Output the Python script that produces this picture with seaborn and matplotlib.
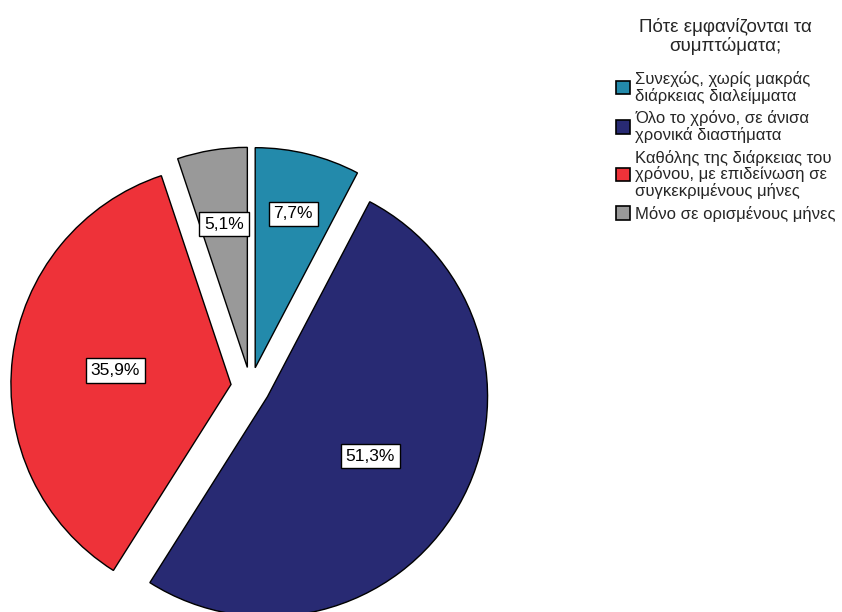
#!/usr/bin/env python3
""" Pie chart: when do the symptoms appear """

import matplotlib
matplotlib.use('Agg')
import numpy as np
import matplotlib.pyplot as plt
import seaborn as sns

# Data (counts, read as n=39 from the percentages)
categories = [
  'Συνεχώς, χωρίς μακράς\nδιάρκειας διαλείμματα',
  'Όλο το χρόνο, σε άνισα\nχρονικά διαστήματα',
  'Καθόλης της διάρκειας του\nχρόνου, με επιδείνωση σε\nσυγκεκριμένους μήνες',
  'Μόνο σε ορισμένους μήνες',
]
counts = [3, 20, 14, 2]
legend_title = 'Πότε εμφανίζονται τα\nσυμπτώματα;'

colors = ['#238aab', '#282a73', '#ee3239', '#999999']
# radial position of each percentage label (fraction of radius)
label_dist = [0.72, 0.54, 0.53, 0.66]


def main():
  sns.set_theme(style='white')
  plt.rcParams['font.family'] = ['Liberation Sans', 'DejaVu Sans']

  fig = plt.figure(figsize=(8.42, 6.12), dpi=100)
  ax = fig.add_axes([-0.026, -0.0773, 0.647, 0.8905])

  wedges, texts, autotexts = ax.pie(
    counts,
    colors=colors,
    startangle=90,
    counterclock=False,
    explode=[0.09] * len(counts),
    autopct=lambda p: f'{p:.1f}%'.replace('.', ','),
    pctdistance=0.5,
    radius=1.01,
    wedgeprops=dict(edgecolor='black', linewidth=1.0),
    textprops=dict(fontsize=12.5, color='black'),
  )
  ax.set_xlim(-1.25, 1.25)
  ax.set_ylim(-1.25, 1.25)
  ax.set_aspect('equal')
  ax.axis('off')

  # move percentage labels and box them
  for w, t, d in zip(wedges, autotexts, label_dist):
    ang = np.deg2rad((w.theta1 + w.theta2) / 2)
    cx, cy = w.center
    t.set_position((cx + d * w.r * np.cos(ang), cy + d * w.r * np.sin(ang)))
    t.set_bbox(dict(facecolor='white', edgecolor='black', linewidth=1.0,
                    boxstyle='square,pad=0.28'))

  leg = fig.legend(
    wedges, categories,
    title=legend_title,
    loc='upper left',
    bbox_to_anchor=(0.7236, 0.982),
    frameon=False,
    fontsize=12,
    title_fontsize=13.5,
    handlelength=0.85,
    handleheight=0.85,
    handletextpad=0.3,
    labelspacing=0.4,
    borderaxespad=0,
  )
  leg.get_title().set_multialignment('center')
  leg.get_title().set_linespacing(1.1)
  leg._legend_box.sep = 11.5  # gap between title and entries
  for t in leg.get_texts():
    t.set_linespacing(1.05)
  for h in leg.legend_handles:
    h.set_edgecolor('black')
    h.set_linewidth(1.2)

  fig.savefig('out.png', dpi=100)


if __name__ == '__main__':
  main()
